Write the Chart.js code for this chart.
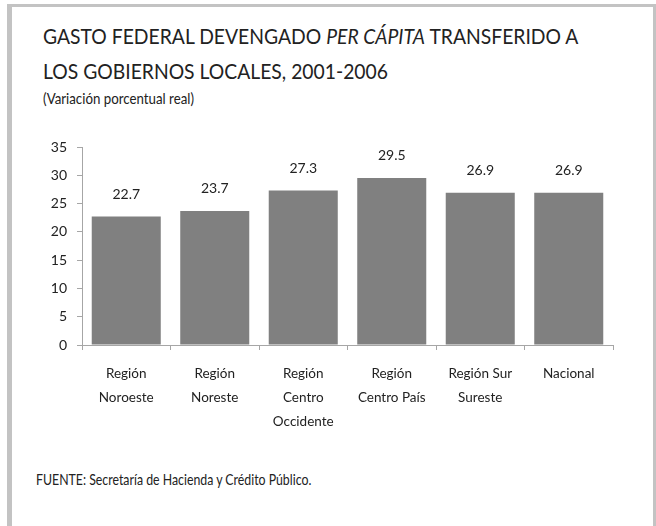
<!DOCTYPE html>
<html>
<head>
<meta charset="utf-8">
<script src="https://cdn.jsdelivr.net/npm/chart.js@4.4.1/dist/chart.umd.min.js"></script>
<style>
  html, body { margin: 0; padding: 0; background: #fff; }
  body { width: 656px; height: 526px; position: relative; overflow: hidden; font-family: Lato, "Open Sans", sans-serif; color: #222; }
  #frame { position: absolute; left: 7px; top: 4px; width: 641px; height: 600px;
           border-left: 5px solid #c3c3c3; border-top: 3px solid #c3c3c3; border-right: 3px solid #c3c3c3; }
  .t { position: absolute; white-space: nowrap; transform-origin: 0 0; }
  #title1 { left: 43px; top: 23px; font-size: 21px; transform: scaleX(0.92); }
  #title2 { left: 43px; top: 58px; font-size: 21px; transform: scaleX(0.92); }
  #sub { left: 43px; top: 88px; font-size: 16px; transform: scaleX(0.83); }
  #foot { left: 36px; top: 469px; font-size: 16px; transform: scaleX(0.77); }
  canvas { position: absolute; left: 0; top: 0; }
</style>
</head>
<body>
<div id="frame"></div>
<div class="t" id="title1">GASTO FEDERAL DEVENGADO <i>PER CÁPITA</i> TRANSFERIDO A</div>
<div class="t" id="title2">LOS GOBIERNOS LOCALES, 2001-2006</div>
<div class="t" id="sub">(Variación porcentual real)</div>
<div class="t" id="foot">FUENTE: Secretaría de Hacienda y Crédito Público.</div>
<canvas id="c" width="656" height="526"></canvas>
<script>
const categories = [
  ["Región", "Noroeste"],
  ["Región", "Noreste"],
  ["Región", "Centro", "Occidente"],
  ["Región", "Centro País"],
  ["Región Sur", "Sureste"],
  ["Nacional"]
];
const values = [22.7, 23.7, 27.3, 29.5, 26.9, 26.9];
const yTicks = [0, 5, 10, 15, 20, 25, 30, 35];

const axisColor = '#a6a6a6';
const fontFamily = 'Lato, "Open Sans", sans-serif';

const valueLabels = {
  id: 'valueLabels',
  afterDatasetsDraw(chart) {
    const ctx = chart.ctx;
    const meta = chart.getDatasetMeta(0);
    ctx.save();
    ctx.font = '14px ' + fontFamily;
    ctx.fillStyle = '#222';
    ctx.textAlign = 'center';
    ctx.textBaseline = 'alphabetic';
    meta.data.forEach((bar, i) => {
      ctx.fillText(values[i].toFixed(1), bar.x, bar.y - 18);
    });
    ctx.restore();
  }
};

new Chart(document.getElementById('c'), {
  type: 'bar',
  data: {
    labels: categories,
    datasets: [{
      data: values,
      backgroundColor: '#808080',
      borderWidth: 0,
      categoryPercentage: 1,
      barPercentage: 0.78
    }]
  },
  options: {
    responsive: false,
    animation: false,
    devicePixelRatio: 1,
    layout: { padding: { left: 0, right: 43, top: 147, bottom: 0 } },
    plugins: { legend: { display: false }, tooltip: { enabled: false }, title: { display: false } },
    scales: {
      x: {
        grid: { display: true, drawOnChartArea: false, drawTicks: true, tickLength: 5, color: axisColor, offset: true },
        border: { color: axisColor },
        ticks: { color: '#222', font: { family: fontFamily, size: 13.5, lineHeight: '24px' }, padding: 12, maxRotation: 0, autoSkip: false },
        afterFit(s) { s.height = 181; }
      },
      y: {
        min: 0, max: 35,
        afterBuildTicks(s) { s.ticks = yTicks.map(v => ({ value: v })); },
        grid: { display: true, drawOnChartArea: false, drawTicks: true, tickLength: 5, color: axisColor },
        border: { color: axisColor },
        ticks: { color: '#222', font: { family: fontFamily, size: 14 }, padding: 10 },
        afterFit(s) { s.width = 82; }
      }
    }
  },
  plugins: [valueLabels]
});
</script>
</body>
</html>
